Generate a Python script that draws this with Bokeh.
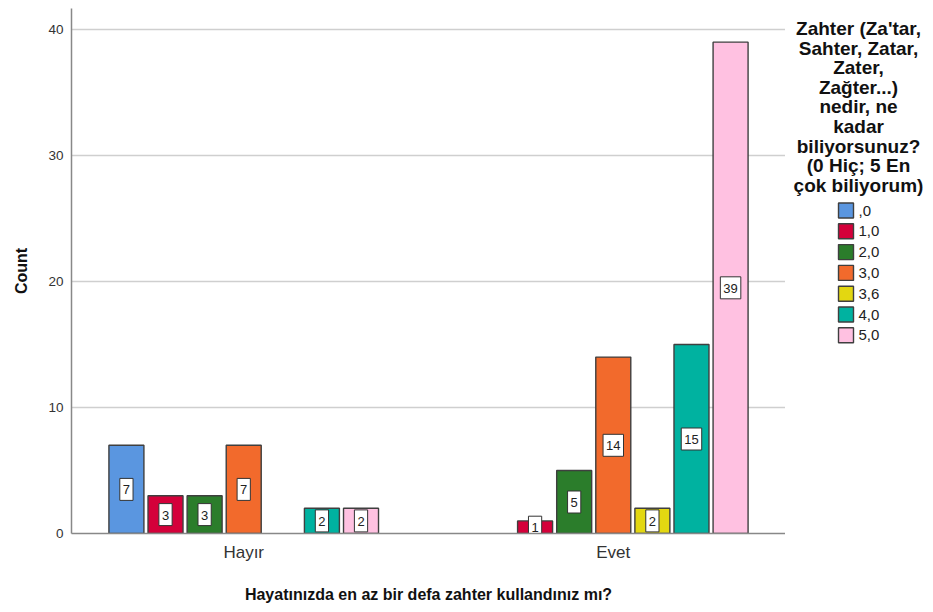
from bokeh.plotting import figure
from bokeh.models import FactorRange, Range1d, ColumnDataSource, FixedTicker
from bokeh.transform import dodge
from bokeh.core.properties import value
from bokeh.layouts import row
from bokeh.embed import file_html
from bokeh.resources import INLINE

# ---- data ----
groups = ["Hayır", "Evet"]
levels = [",0", "1,0", "2,0", "3,0", "3,6", "4,0", "5,0"]
hayir_counts = [7, 3, 3, 7, None, 2, 2]
evet_counts = [None, 1, 5, 14, 2, 15, 39]
colors = ["#5a96e0", "#d4003a", "#2b7d2b", "#f26a2c", "#e3d711", "#00b2a0", "#ffc1e1"]
y_ticks = [0, 10, 20, 30, 40]
x_title = "Hayatınızda en az bir defa zahter kullandınız mı?"
y_title = "Count"
legend_title_lines = ["Zahter (Za'tar,", "Sahter, Zatar,", "Zater,", "Zağter...)",
                      "nedir, ne", "kadar", "biliyorsunuz?", "(0 Hiç; 5 En", "çok biliyorum)"]

FONT = "Liberation Sans"
pitch = 0.1058
bar_w = 0.0947
FRAME_TOP = 8
FRAME_H = 525
BOTTOM = 71

p = figure(
    x_range=FactorRange(factors=groups, range_padding=-0.034, range_padding_units="absolute"),
    y_range=Range1d(0, 41.67),
    frame_width=714, frame_height=FRAME_H,
    min_border_left=71, min_border_right=0, min_border_top=FRAME_TOP, min_border_bottom=BOTTOM,
    output_backend="svg", toolbar_location=None,
)
p.outline_line_color = None
p.background_fill_color = "white"

for i, col in enumerate(colors):
    xs, tops = [], []
    for g, counts in zip(groups, [hayir_counts, evet_counts]):
        if counts[i] is not None:
            xs.append(g)
            tops.append(counts[i])
    src = ColumnDataSource(dict(x=xs, top=tops))
    p.vbar(x=dodge("x", (i - 3) * pitch, range=p.x_range), top="top", width=bar_w, source=src,
           fill_color=col, line_color="#3f3f3f", line_width=1.4)

for i in range(len(levels)):
    xs, tops = [], []
    for g, counts in zip(groups, [hayir_counts, evet_counts]):
        if counts[i] is not None:
            xs.append(g)
            tops.append(counts[i])
    src = ColumnDataSource(dict(x=xs, mid=[t / 2 for t in tops], label=[str(t) for t in tops]))
    p.text(x=dodge("x", (i - 3) * pitch, range=p.x_range), y="mid", text="label", source=src,
           text_align="center", text_baseline="middle", text_font=value(FONT),
           text_font_size="13px", text_color="#222222",
           background_fill_color="white", border_line_color="#333333", border_line_width=1,
           padding=dict(left=3, right=3, top=7, bottom=6))

# axes
p.xaxis.axis_label = x_title
p.xaxis.axis_label_text_font = FONT
p.xaxis.axis_label_text_font_size = "16px"
p.xaxis.axis_label_text_font_style = "bold"
p.xaxis.axis_label_text_color = "#111111"
p.xaxis.axis_label_standoff = 21
p.xaxis.major_label_text_font = FONT
p.xaxis.major_label_text_font_size = "17px"
p.xaxis.major_label_text_color = "#333333"
p.xaxis.major_label_standoff = 9
p.xaxis.major_tick_line_color = None
p.xaxis.major_tick_out = 0
p.xaxis.major_tick_in = 0
p.xaxis.minor_tick_line_color = None
p.xaxis.axis_line_color = "#888888"
p.xaxis.axis_line_width = 1.5

p.yaxis.axis_label = y_title
p.yaxis.ticker = FixedTicker(ticks=y_ticks)
p.yaxis.axis_label_text_font = FONT
p.yaxis.axis_label_text_font_size = "16px"
p.yaxis.axis_label_text_font_style = "bold"
p.yaxis.axis_label_text_color = "#111111"
p.yaxis.axis_label_standoff = 15
p.yaxis.major_label_text_font = FONT
p.yaxis.major_label_text_font_size = "13.5px"
p.yaxis.major_label_text_color = "#333333"
p.yaxis.major_label_standoff = 8
p.yaxis.major_tick_line_color = None
p.yaxis.major_tick_out = 0
p.yaxis.major_tick_in = 0
p.yaxis.minor_tick_line_color = None
p.yaxis.axis_line_color = "#888888"
p.yaxis.axis_line_width = 1.5

p.xgrid.visible = False
p.ygrid.ticker = FixedTicker(ticks=y_ticks)
p.ygrid.grid_line_color = "#cfcfcf"
p.ygrid.grid_line_width = 1.5

# ---- legend panel (coordinates in page pixels, y downwards) ----
LEG_X0 = 785
LEG_W = 145
leg = figure(frame_width=LEG_W, frame_height=FRAME_H,
             x_range=Range1d(LEG_X0, LEG_X0 + LEG_W),
             y_range=Range1d(FRAME_TOP + FRAME_H, FRAME_TOP),
             x_axis_type=None, y_axis_type=None,
             min_border_left=0, min_border_right=0,
             min_border_top=FRAME_TOP, min_border_bottom=BOTTOM,
             output_backend="svg", toolbar_location=None)
leg.outline_line_color = None
leg.grid.visible = False

title_src = ColumnDataSource(dict(
    x=[858] * len(legend_title_lines),
    y=[28 + 19.6 * k for k in range(len(legend_title_lines))],
    t=legend_title_lines))
leg.text(x="x", y="y", text="t", source=title_src, text_align="center",
         text_baseline="alphabetic", text_font=value(FONT), text_font_size="19px",
         text_font_style="bold", text_color="#111111")

item_src = ColumnDataSource(dict(
    x=[845.5] * len(levels),
    lx=[858] * len(levels),
    y=[210 + 20.8 * k for k in range(len(levels))],
    c=colors, t=levels))
leg.rect(x="x", y="y", width=15, height=15, source=item_src, fill_color="c",
         line_color="#3f3f3f", line_width=1.4)
leg.text(x="lx", y="y", text="t", source=item_src, text_align="left", text_baseline="middle",
         text_font=value(FONT), text_font_size="15px", text_color="#222222")

layout = row(p, leg, spacing=0)
open("out.html", "w").write(file_html(layout, INLINE))
